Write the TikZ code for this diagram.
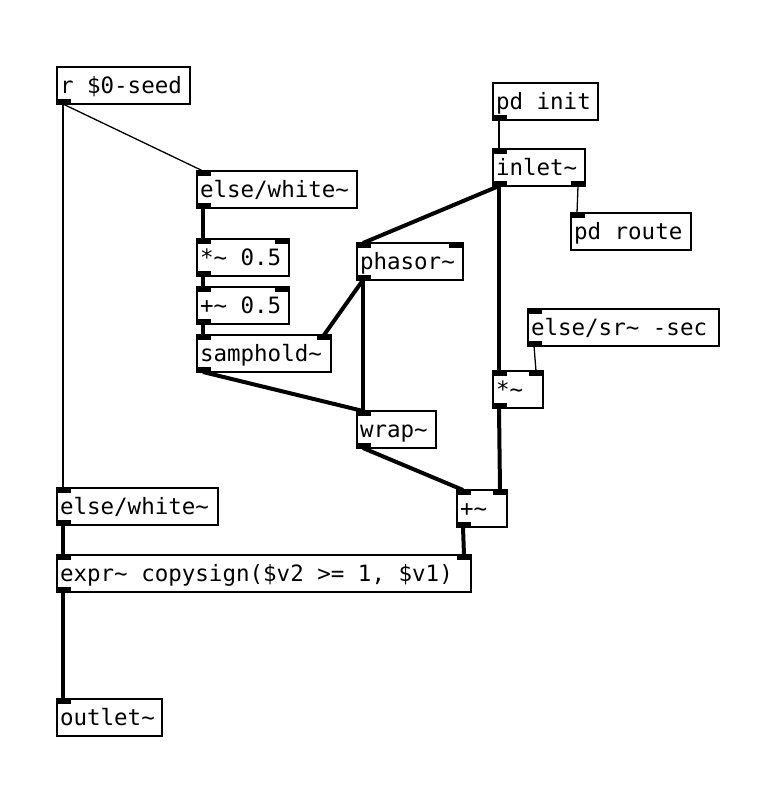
\documentclass[tikz,border=0pt]{standalone}
\usepackage{fontspec}
\setmonofont{DejaVu Sans Mono}
\usetikzlibrary{calc}
\newfontfamily\pdfont{DejaVu Sans Mono}
\newcommand\pdinL[1]{\fill (#1.north west) rectangle ++(14,5);}
\newcommand\pdinR[1]{\fill (#1.north east) rectangle ++(-14,5);}
\newcommand\pdoutL[1]{\fill (#1.south west) rectangle ++(14,-5);}
\newcommand\pdoutR[1]{\fill (#1.south east) rectangle ++(-14,-5);}
\newcommand\pdtxt[2]{\makebox[#1][l]{#2}}
\begin{document}
\begin{tikzpicture}[x=1pt,y=-1pt,
  obj/.style={draw, line width=1.3pt, anchor=north west, outer sep=0pt,
    minimum height=37pt, inner xsep=3pt, inner ysep=0pt,
    font=\pdfont\fontsize{22.5}{22.5}\selectfont,
    text height=18.75pt, text depth=3.75pt},
  sig/.style={line width=4pt},
  ctl/.style={line width=1.3pt}]
\useasboundingbox[fill=white] (0,0) rectangle (764,806);

\node[obj] (seed) at (57,67) {\pdtxt{127pt}{r \$0-seed}};
\node[obj] (white1) at (197,171) {\pdtxt{154pt}{else/white\char`\~}};
\node[obj] (mulh) at (197,239) {\pdtxt{86pt}{*\char`\~{} 0.5}};
\node[obj] (addh) at (197,287) {\pdtxt{86pt}{+\char`\~{} 0.5}};
\node[obj] (samph) at (197,335) {\pdtxt{128pt}{samphold\char`\~}};
\node[obj] (phasor) at (357,243) {\pdtxt{100pt}{phasor\char`\~}};
\node[obj] (wrap) at (357,411) {\pdtxt{73pt}{wrap\char`\~}};
\node[obj] (pdinit) at (493,83) {\pdtxt{99pt}{pd init}};
\node[obj] (inlet) at (493,149) {\pdtxt{86pt}{inlet\char`\~}};
\node[obj] (pdroute) at (571,213) {\pdtxt{114pt}{pd route}};
\node[obj] (sr) at (528,309) {\pdtxt{185pt}{else/sr\char`\~{} -sec}};
\node[obj] (mul) at (493,371) {\pdtxt{44pt}{*\char`\~}};
\node[obj] (add) at (457,490) {\pdtxt{44pt}{+\char`\~}};
\node[obj] (white2) at (57,488) {\pdtxt{155pt}{else/white\char`\~}};
\node[obj] (expr) at (57,555) {\pdtxt{408pt}{expr\char`\~{} copysign(\$v2 >= 1, \$v1)}};
\node[obj] (outlet) at (57,699) {\pdtxt{99pt}{outlet\char`\~}};

% inlets and outlets
\pdoutL{seed}
\pdinL{white1} \pdoutL{white1}
\pdinL{mulh} \pdinR{mulh} \pdoutL{mulh}
\pdinL{addh} \pdinR{addh} \pdoutL{addh}
\pdinL{samph} \pdinR{samph} \pdoutL{samph}
\pdinL{phasor} \pdinR{phasor} \pdoutL{phasor}
\pdinL{wrap} \pdoutL{wrap}
\pdoutL{pdinit}
\pdinL{inlet} \pdoutL{inlet} \pdoutR{inlet}
\pdinL{pdroute}
\pdinL{sr} \pdoutL{sr}
\pdinL{mul} \pdinR{mul} \pdoutL{mul}
\pdinL{add} \pdinR{add} \pdoutL{add}
\pdinL{white2} \pdoutL{white2}
\pdinL{expr} \pdinR{expr} \pdoutL{expr}
\pdinL{outlet}

% control connections
\draw[ctl] ($(seed.south west)+(6,0)$) -- ($(white1.north west)+(6,0)$);
\draw[ctl] ($(seed.south west)+(6,0)$) -- ($(white2.north west)+(6,0)$);
\draw[ctl] ($(pdinit.south west)+(6,0)$) -- ($(inlet.north west)+(6,0)$);
\draw[ctl] ($(inlet.south east)+(-7,0)$) -- ($(pdroute.north west)+(6,0)$);
\draw[ctl] ($(sr.south west)+(6,0)$) -- ($(mul.north east)+(-7,0)$);

% signal connections
\draw[sig] ($(white1.south west)+(6,0)$) -- ($(mulh.north west)+(6,0)$);
\draw[sig] ($(mulh.south west)+(6,0)$) -- ($(addh.north west)+(6,0)$);
\draw[sig] ($(addh.south west)+(6,0)$) -- ($(samph.north west)+(6,0)$);
\draw[sig] ($(phasor.south west)+(6,0)$) -- ($(samph.north east)+(-7,0)$);
\draw[sig] ($(phasor.south west)+(6,0)$) -- ($(wrap.north west)+(6,0)$);
\draw[sig] ($(samph.south west)+(6,0)$) -- ($(wrap.north west)+(6,0)$);
\draw[sig] ($(wrap.south west)+(6,0)$) -- ($(add.north west)+(6,0)$);
\draw[sig] ($(inlet.south west)+(6,0)$) -- ($(phasor.north west)+(6,0)$);
\draw[sig] ($(inlet.south west)+(6,0)$) -- ($(mul.north west)+(6,0)$);
\draw[sig] ($(mul.south west)+(6,0)$) -- ($(add.north east)+(-7,0)$);
\draw[sig] ($(white2.south west)+(6,0)$) -- ($(expr.north west)+(6,0)$);
\draw[sig] ($(add.south west)+(6,0)$) -- ($(expr.north east)+(-7,0)$);
\draw[sig] ($(expr.south west)+(6,0)$) -- ($(outlet.north west)+(6,0)$);
\end{tikzpicture}
\end{document}
